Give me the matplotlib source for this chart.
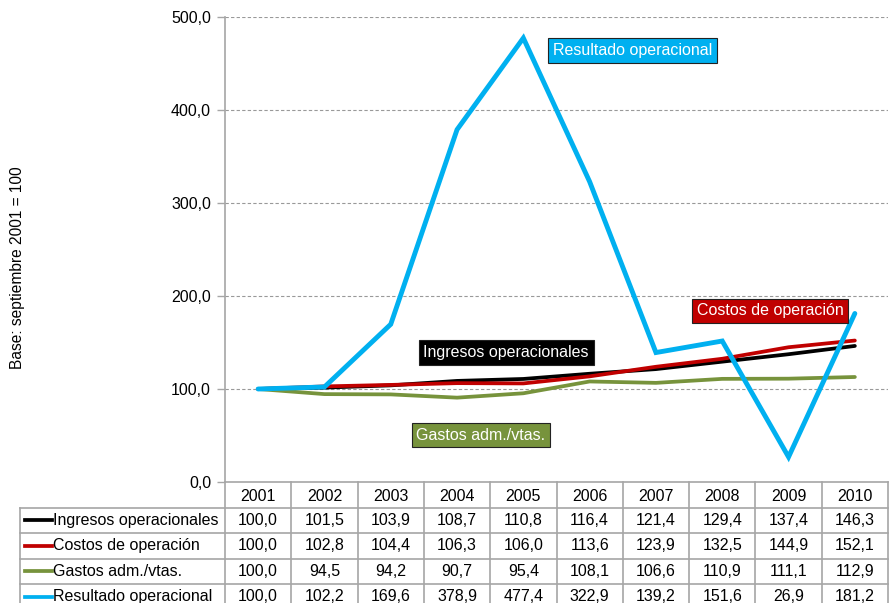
import matplotlib
matplotlib.use("Agg")
import matplotlib.pyplot as plt
from matplotlib.lines import Line2D

years = ["2001", "2002", "2003", "2004", "2005", "2006", "2007", "2008", "2009", "2010"]
ingresos = [100.0, 101.5, 103.9, 108.7, 110.8, 116.4, 121.4, 129.4, 137.4, 146.3]
costos = [100.0, 102.8, 104.4, 106.3, 106.0, 113.6, 123.9, 132.5, 144.9, 152.1]
gastos = [100.0, 94.5, 94.2, 90.7, 95.4, 108.1, 106.6, 110.9, 111.1, 112.9]
resultado = [100.0, 102.2, 169.6, 378.9, 477.4, 322.9, 139.2, 151.6, 26.9, 181.2]
series_names = ["Ingresos operacionales", "Costos de operación", "Gastos adm./vtas.", "Resultado operacional"]
yticks = [0, 100, 200, 300, 400, 500]

colors = ["#000000", "#C00000", "#77933C", "#00B0F0"]
widths = [2.7, 2.7, 2.7, 3.5]
series = [ingresos, costos, gastos, resultado]

plt.rcParams['font.family'] = ['Liberation Sans', 'DejaVu Sans']
FS = 11.5

W, H = 889, 603
fig = plt.figure(figsize=(W / 100, H / 100), dpi=100)

ax_l, ax_r, ax_t, ax_b = 225, 888, 17, 482
ax = fig.add_axes([ax_l / W, (H - ax_b) / H, (ax_r - ax_l) / W, (ax_b - ax_t) / H])
x = list(range(len(years)))
for s, c, lw in zip(series, colors, widths):
    ax.plot(x, s, color=c, lw=lw, solid_capstyle='round', solid_joinstyle='miter', zorder=3)

ax.set_xlim(-0.5, len(years) - 0.5)
ax.set_ylim(0, 500)
ax.set_yticks(yticks)
ax.set_yticklabels([f"{v:.1f}".replace(".", ",") for v in yticks], fontsize=FS)
ax.set_xticks([])
for v in yticks[1:]:
    ax.axhline(v, color="#999999", lw=0.8, ls=(0, (3, 2)), zorder=1)
for sp in ["top", "right", "bottom"]:
    ax.spines[sp].set_visible(False)
ax.spines["left"].set_color("#A6A6A6")
ax.spines["left"].set_linewidth(1.2)
ax.tick_params(axis="y", direction="out", length=6, color="#A6A6A6", width=1, pad=4)
ax.set_ylabel("Base: septiembre 2001 = 100", fontsize=11.2)
ax.yaxis.set_label_coords((25 - ax_l) / (ax_r - ax_l), (482 - 268) / (ax_b - ax_t))

# Series labels (boxes)
labels_pos = [(3.74, 139), (7.72, 184), (3.36, 50.5), (5.65, 464)]
for name, c, (lx, ly) in zip(series_names, colors, labels_pos):
    ax.text(lx, ly, name, color="white", fontsize=FS, ha="center", va="center", zorder=5,
            bbox=dict(boxstyle="square,pad=0.3", fc=c, ec="#222222", lw=0.8))

# Data table below axes
col_w = (ax_r - ax_l) / len(years)
tbl_left_px = 20
left_units = (ax_l - tbl_left_px) / col_w
row_h = 25.5
nrows_vis = (H - ax_b) / row_h
tax = fig.add_axes([tbl_left_px / W, 0, (ax_r - tbl_left_px) / W, (H - ax_b) / H])
tax.set_xlim(-0.5 - left_units, len(years) - 0.5)
tax.set_ylim(nrows_vis, 0)
tax.axis("off")
gc = "#A6A6A6"
xl = -0.5 - left_units
xr = len(years) - 0.5
tax.add_line(Line2D([-0.5, xr], [0, 0], color=gc, lw=1.2, clip_on=False))
for r in range(1, 6):
    tax.add_line(Line2D([xl, xr], [r, r], color=gc, lw=1.2, clip_on=False))
for i in range(len(years) + 1):
    tax.add_line(Line2D([i - 0.5, i - 0.5], [0, 6], color=gc, lw=1.2, clip_on=False))
tax.add_line(Line2D([xl, xl], [1, 6], color=gc, lw=1.2, clip_on=False))
for i, yname in enumerate(years):
    tax.text(i, 0.55, yname, ha="center", va="center", fontsize=FS)
for r, (name, s, c) in enumerate(zip(series_names, series, colors), start=1):
    yy = r + 0.5
    tax.add_line(Line2D([xl + 0.08, xl + 0.48], [yy, yy], color=c, lw=2.7, clip_on=False))
    tax.text(xl + 0.5, yy, name, ha="left", va="center", fontsize=FS)
    for i, v in enumerate(s):
        tax.text(i, yy, f"{v:.1f}".replace(".", ","), ha="center", va="center", fontsize=FS)

fig.savefig("out.png", dpi=100)
